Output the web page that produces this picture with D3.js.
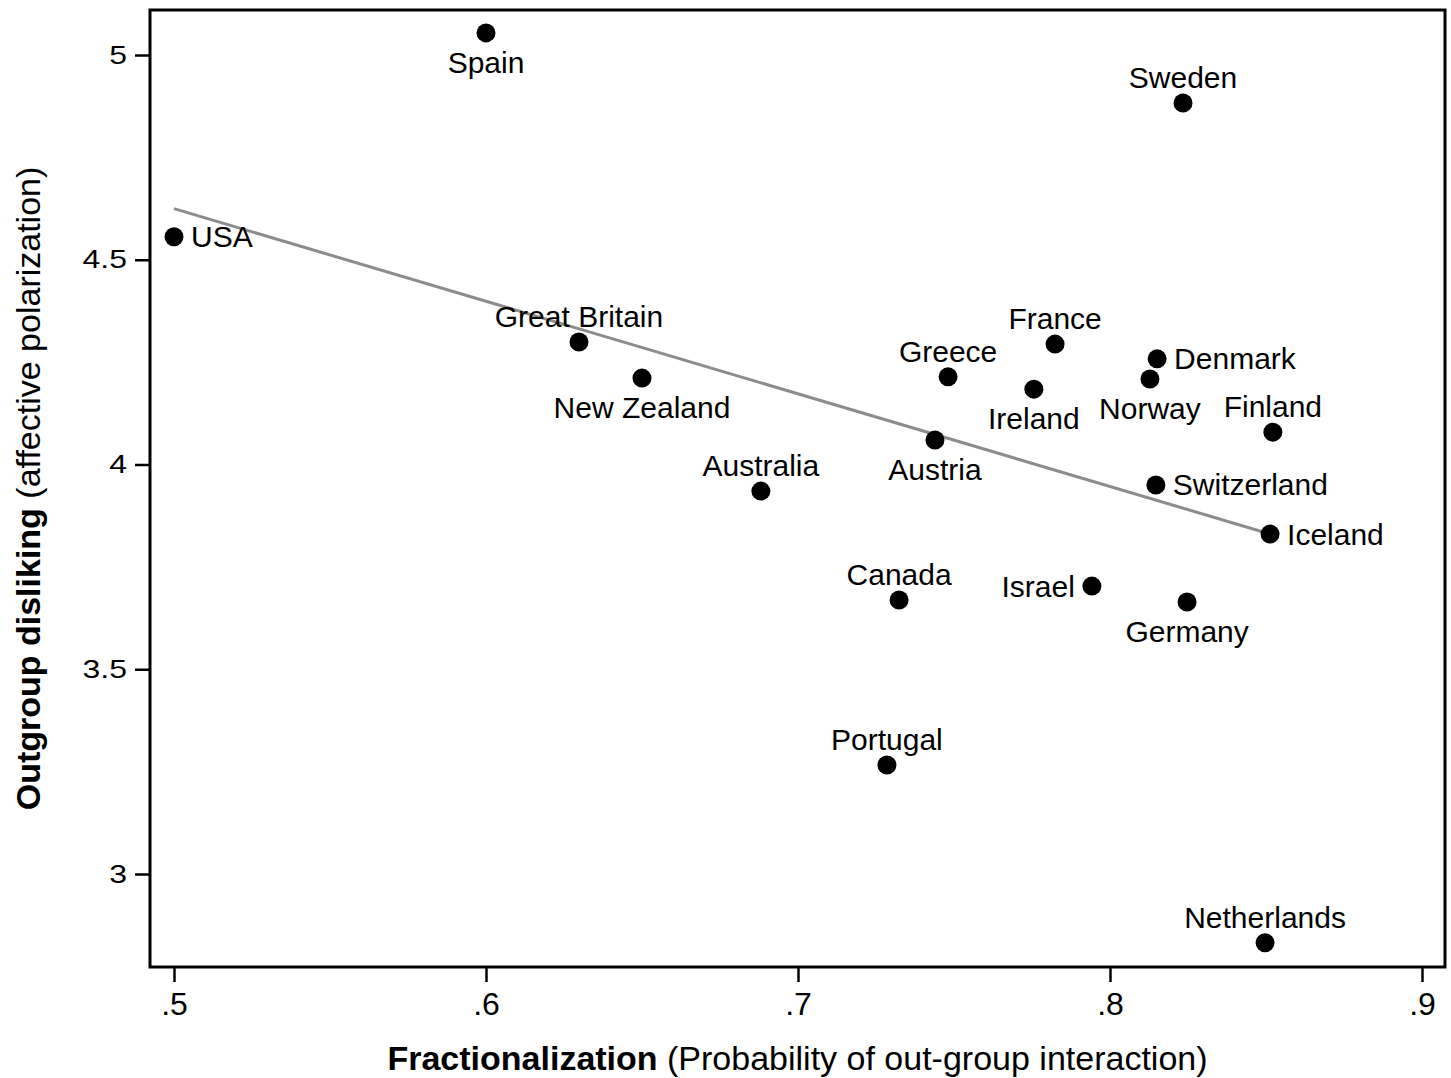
<!DOCTYPE html>
<html>
<head>
<meta charset="utf-8">
<script src="https://cdn.jsdelivr.net/npm/d3@7"></script>
<style>
  html, body { margin: 0; padding: 0; background: #fff; }
  svg { display: block; }
  text { font-family: "Liberation Sans", Arial, Helvetica, sans-serif; fill: #000; }
</style>
</head>
<body>
<svg id="chart" width="1451" height="1078"></svg>
<script>
// Country-level fractionalization vs. outgroup disliking
const countries = ["Spain", "Sweden", "USA", "Great Britain", "New Zealand", "Australia",
  "Greece", "France", "Ireland", "Austria", "Denmark", "Norway", "Finland", "Switzerland",
  "Iceland", "Canada", "Israel", "Germany", "Portugal", "Netherlands"];
const fractionalization = [0.600, 0.8234, 0.500, 0.6298, 0.650, 0.6881,
  0.7481, 0.7824, 0.7756, 0.7439, 0.8151, 0.8128, 0.8522, 0.8147,
  0.8513, 0.7324, 0.7942, 0.8247, 0.7285, 0.8497];
const disliking = [5.054, 4.883, 4.556, 4.299, 4.211, 3.935,
  4.214, 4.294, 4.184, 4.060, 4.258, 4.209, 4.079, 3.950,
  3.830, 3.669, 3.703, 3.664, 3.266, 2.832];
// clock position of each marker label (12 above, 6 below, 3 right, 9 left)
const labelPos = [6, 12, 3, 12, 6, 12,
  12, 12, 6, 6, 3, 6, 12, 3,
  3, 12, 9, 6, 12, 12];

const xTicks = [0.5, 0.6, 0.7, 0.8, 0.9];
const yTicks = [3, 3.5, 4, 4.5, 5];

const data = countries.map((c, i) => ({ name: c, x: fractionalization[i], y: disliking[i], pos: labelPos[i] }));

const svg = d3.select("#chart");
const frame = { left: 150, top: 10, right: 1445, bottom: 967 };

const x = d3.scaleLinear().domain([0.5, 0.9]).range([174, 1422]);
const y = d3.scaleLinear().domain([3, 5]).range([874, 55]);

// plot region border
svg.append("rect")
  .attr("x", frame.left).attr("y", frame.top)
  .attr("width", frame.right - frame.left).attr("height", frame.bottom - frame.top)
  .attr("fill", "none").attr("stroke", "#000").attr("stroke-width", 3);

const fmtX = d => d3.format(".1f")(d).replace(/^0/, "");
const fmtY = d => String(d);

// x axis
const gx = svg.append("g").attr("transform", `translate(0,${frame.bottom})`)
  .call(d3.axisBottom(x).tickValues(xTicks).tickFormat(fmtX).tickSize(15).tickPadding(10));
gx.select(".domain").remove();
gx.selectAll(".tick line").attr("stroke", "#000").attr("stroke-width", 2.5);
gx.selectAll(".tick text").style("font-size", "32px").style("font-family", "Liberation Sans, Arial, sans-serif");

// y axis
const gy = svg.append("g").attr("transform", `translate(${frame.left},0)`)
  .call(d3.axisLeft(y).tickValues(yTicks).tickFormat(fmtY).tickSize(15).tickPadding(8));
gy.select(".domain").remove();
gy.selectAll(".tick line").attr("stroke", "#000").attr("stroke-width", 2.5);
gy.selectAll(".tick text")
  .style("font-size", "32px").style("font-family", "Liberation Sans, Arial, sans-serif")
  .attr("transform", "scale(1,0.8)");

// OLS fitted line over the observed range
const mx = d3.mean(data, d => d.x), my = d3.mean(data, d => d.y);
const sxy = d3.sum(data, d => (d.x - mx) * (d.y - my));
const sxx = d3.sum(data, d => (d.x - mx) ** 2);
const slope = sxy / sxx, intercept = my - slope * mx;
const [x0, x1] = d3.extent(data, d => d.x);
svg.append("line")
  .attr("x1", x(x0)).attr("y1", y(intercept + slope * x0))
  .attr("x2", x(x1)).attr("y2", y(intercept + slope * x1))
  .attr("stroke", "#8c8c8c").attr("stroke-width", 3);

// markers
svg.append("g").selectAll("circle").data(data).join("circle")
  .attr("cx", d => x(d.x)).attr("cy", d => y(d.y)).attr("r", 9.5)
  .attr("fill", "#000");

// marker labels
svg.append("g").selectAll("text").data(data).join("text")
  .style("font-size", "30px")
  .attr("text-anchor", d => d.pos === 3 ? "start" : d.pos === 9 ? "end" : "middle")
  .attr("x", d => x(d.x) + (d.pos === 3 ? 17 : d.pos === 9 ? -17 : 0))
  .attr("y", d => y(d.y) + (d.pos === 12 ? -15 : d.pos === 6 ? 40 : 10.5))
  .text(d => d.name);

// axis titles
const xt = svg.append("text").attr("x", (frame.left + frame.right) / 2).attr("y", 1070)
  .attr("text-anchor", "middle").style("font-size", "34px");
xt.append("tspan").attr("font-weight", "bold").text("Fractionalization");
xt.append("tspan").text(" (Probability of out-group interaction)");

const yt = svg.append("text")
  .attr("transform", `translate(40,${(frame.top + frame.bottom) / 2}) rotate(-90)`)
  .attr("text-anchor", "middle").style("font-size", "34px");
yt.append("tspan").attr("font-weight", "bold").text("Outgroup disliking");
yt.append("tspan").text(" (affective polarization)");
</script>
</body>
</html>
